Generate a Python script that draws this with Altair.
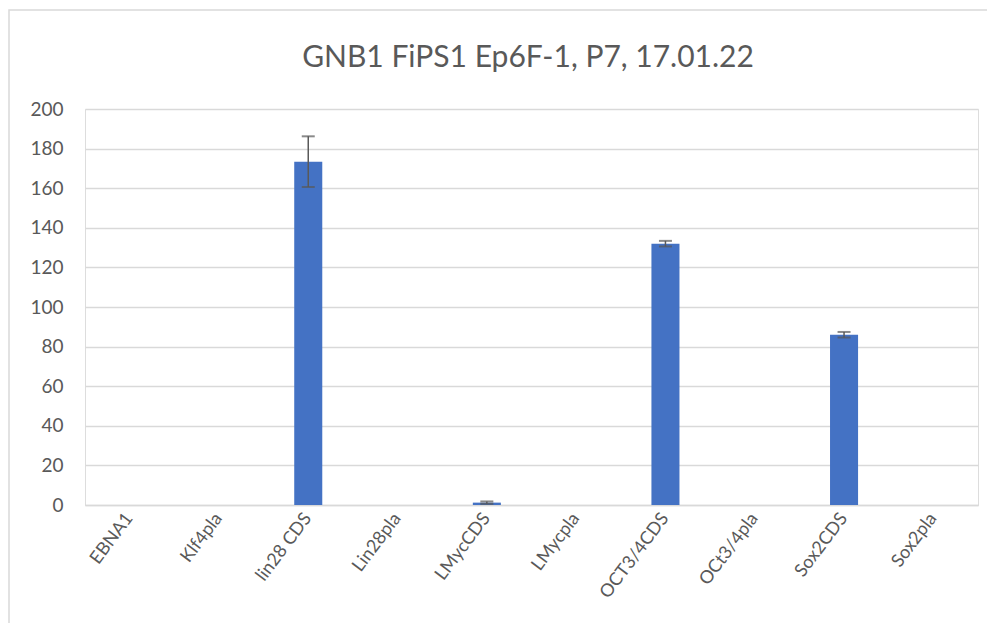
import altair as alt
import pandas as pd

categories = ["EBNA1", "Klf4pla", "lin28 CDS", "Lin28pla", "LMycCDS",
              "LMycpla", "OCT3/4CDS", "OCt3/4pla", "Sox2CDS", "Sox2pla"]
values = [0, 0, 173.4, 0, 1.2, 0, 132.0, 0, 86.0, 0]
errors = [0, 0, 12.8, 0, 0.6, 0, 1.4, 0, 1.4, 0]
y_ticks = [0, 20, 40, 60, 80, 100, 120, 140, 160, 180, 200]
title_text = "GNB1 FiPS1 Ep6F-1, P7, 17.01.22"

df = pd.DataFrame({"cat": categories, "val": values, "err": errors})
df["lo"] = df["val"] - df["err"]
df["hi"] = df["val"] + df["err"]

FONT = "Lato"
GREY = "#595959"

x_axis = alt.Axis(labelAngle=-53, labelFontSize=18, labelColor=GREY,
                  labelFont=FONT, ticks=False, domainColor="#d9d9d9",
                  domainWidth=1.5, labelPadding=10)
y_axis = alt.Axis(values=y_ticks, labelFontSize=19, labelColor=GREY,
                  labelFont=FONT, ticks=False, domain=False, labelOverlap=False,
                  gridColor="#d9d9d9", gridWidth=1.5, labelPadding=22)
x_scale = alt.Scale(paddingInner=0.686, paddingOuter=0.343)
y_scale = alt.Scale(domain=[0, 200], nice=False)


def xe():
    return alt.X("cat:N", sort=categories, title=None, scale=x_scale, axis=x_axis)


bars = alt.Chart(df).mark_bar(color="#4472C4").encode(
    x=xe(),
    y=alt.Y("val:Q", scale=y_scale, title=None, axis=y_axis),
)

err_df = df[df["err"] > 0]
whisk = alt.Chart(err_df).mark_rule(color=GREY, strokeWidth=1.5).encode(
    x=xe(),
    y=alt.Y("lo:Q", scale=y_scale, title=None, axis=y_axis),
    y2="hi:Q",
)
cap_hi = alt.Chart(err_df).mark_tick(color=GREY, size=13, thickness=2, orient="horizontal").encode(
    x=xe(),
    y=alt.Y("hi:Q", scale=y_scale, title=None, axis=y_axis),
)
cap_lo = alt.Chart(err_df).mark_tick(color=GREY, size=13, thickness=2, orient="horizontal").encode(
    x=xe(),
    y=alt.Y("lo:Q", scale=y_scale, title=None, axis=y_axis),
)

frame = alt.Chart(alt.Data(values=[{"a": 1}])).mark_rect(
    fill=None, stroke="#d9d9d9", strokeWidth=1.5
).encode(
    x=alt.value(-76), x2=alt.value(1100), y=alt.value(-99), y2=alt.value(1000)
)

title = alt.Chart(alt.Data(values=[{"t": title_text}])).mark_text(
    font=FONT, fontSize=30, color=GREY, align="center", baseline="alphabetic"
).encode(
    x=alt.value(443), y=alt.value(-42), text="t:N"
)

chart = alt.layer(frame, bars, whisk, cap_hi, cap_lo, title).properties(
    width=893,
    height=396,
    autosize=alt.AutoSizeParams(type="none"),
    padding={"left": 77, "top": 101, "right": 9, "bottom": 118},
).configure_view(stroke=None).configure(background="white")

chart.save("out.html", embed_options={"renderer": "svg", "actions": False})
